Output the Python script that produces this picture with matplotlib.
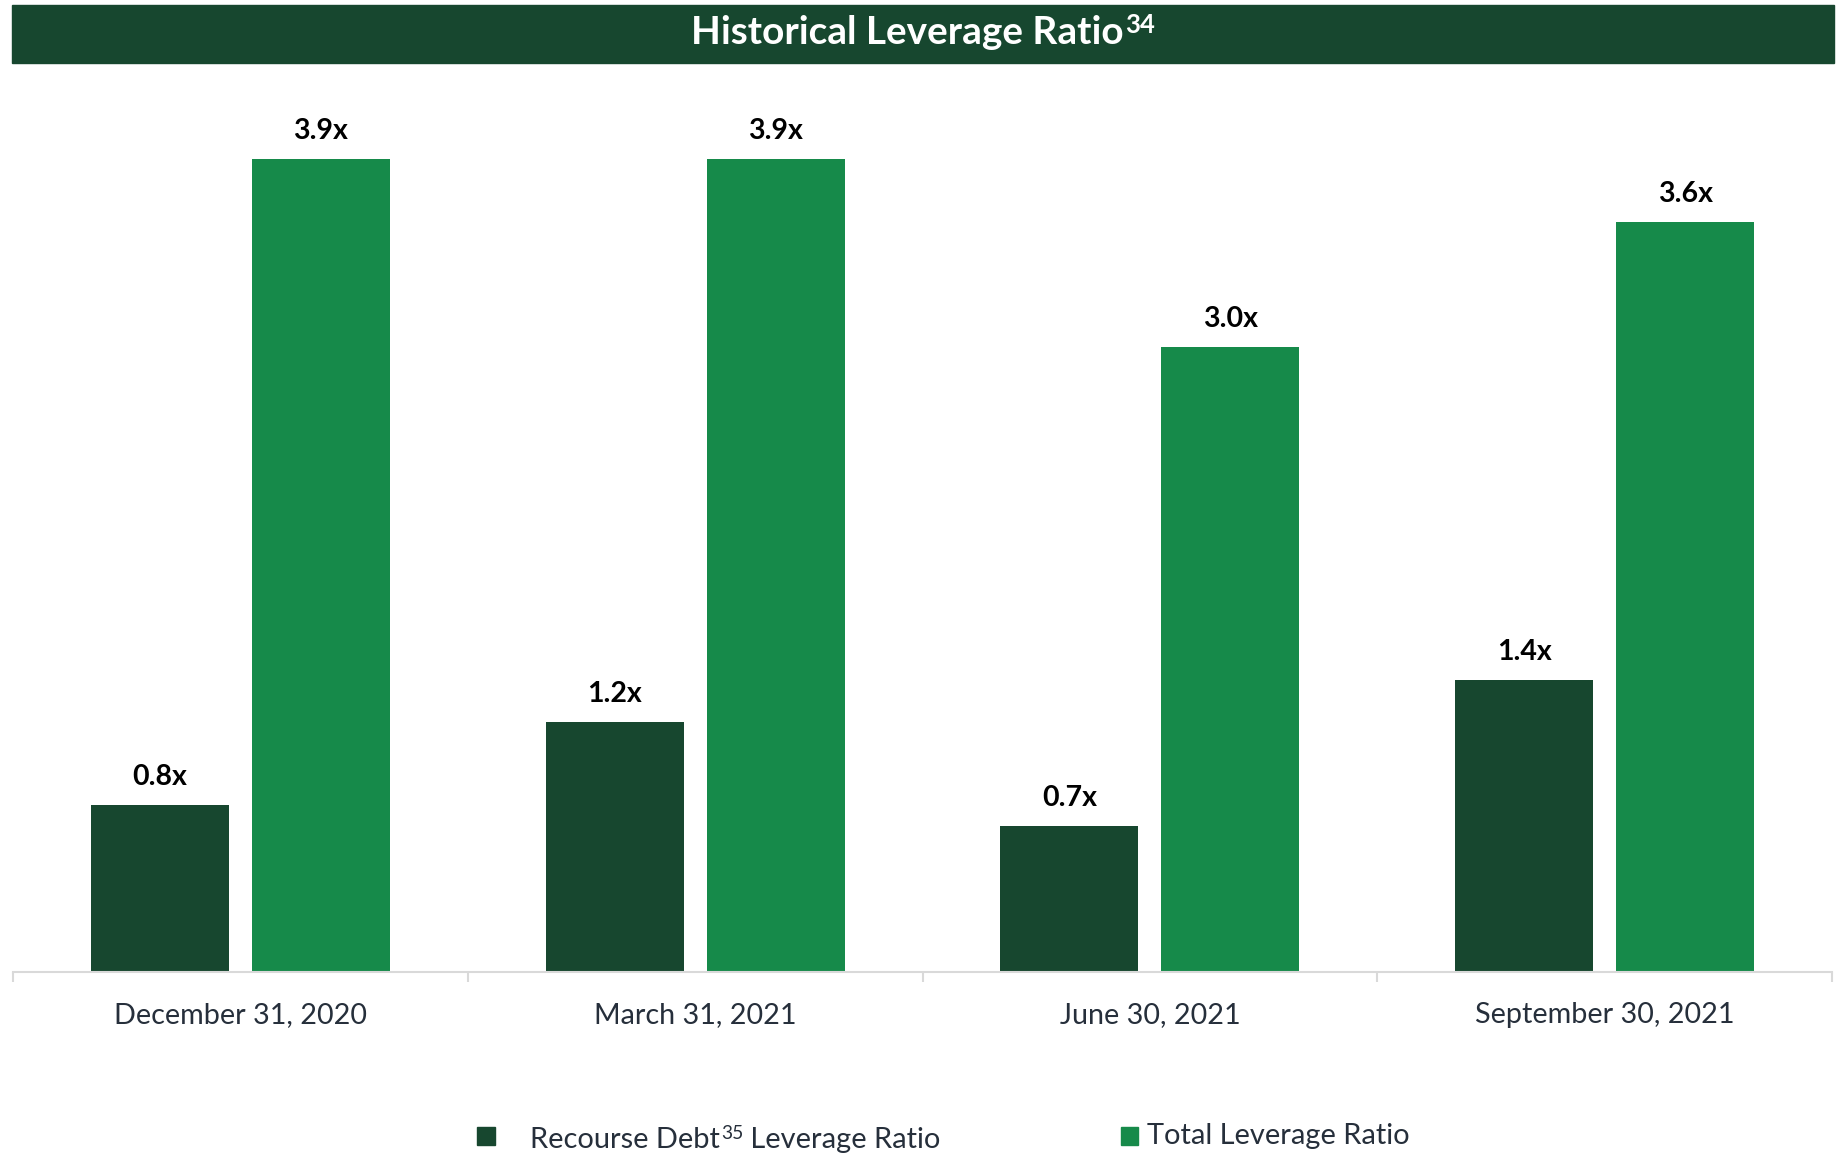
import matplotlib
matplotlib.use("Agg")
import matplotlib.pyplot as plt
from matplotlib.patches import Rectangle
import numpy as np

# ---- data ----
categories = ["December 31, 2020", "March 31, 2021", "June 30, 2021", "September 30, 2021"]
recourse_debt = [0.8, 1.2, 0.7, 1.4]
total_leverage = [3.9, 3.9, 3.0, 3.6]
value_labels_recourse = ["0.8x", "1.2x", "0.7x", "1.4x"]
value_labels_total = ["3.9x", "3.9x", "3.0x", "3.6x"]
series_names = ["Recourse Debt", "Total Leverage Ratio"]
series_suffix = " Leverage Ratio"
title_text = "Historical Leverage Ratio"
title_sup = "34"
legend_sup = "35"

# ---- style ----
W, H = 1839, 1155
DPI = 100
DARK = "#17472F"
GREEN = "#168A4A"
TEXT = "#262F3B"
AXIS = "#D9D9D9"
FONT = "Lato"

fig = plt.figure(figsize=(W / DPI, H / DPI), dpi=DPI)
renderer = fig.canvas.get_renderer()


def fx(px):
    return px / W


def fy(py):
    return 1 - py / H


def width_px(s, fs, weight="normal"):
    t = fig.text(0, 0, s, fontsize=fs, family=FONT, fontweight=weight)
    w = t.get_window_extent(renderer).width
    t.remove()
    return w


def fit(s, target_px, weight="normal"):
    return 20 * target_px / width_px(s, 20, weight)


# axes placement: baseline at y=972px, spanning x 13..1832
ax = fig.add_axes([fx(13), fy(972), fx(1832 - 13), (972 - 100) / H])
px_per_unit = (972 - 159.3) / 3.9
ax.set_ylim(0, (972 - 100) / px_per_unit)
ax.set_xlim(-0.5, len(categories) - 0.5)

x = np.arange(len(categories))
bw = 0.303
off = 0.177
ax.bar(x - off, recourse_debt, width=bw, color=DARK, zorder=2)
ax.bar(x + off, total_leverage, width=bw, color=GREEN, zorder=2)

lab_fs = fit("0.8x", 55, "bold")
for xi, v, s in zip(x - off, recourse_debt, value_labels_recourse):
    ax.annotate(s, (xi, v), xytext=(0, 14.4), textcoords="offset points",
                ha="center", va="baseline", fontsize=lab_fs, fontweight="bold",
                family=FONT, color="black")
for xi, v, s in zip(x + off, total_leverage, value_labels_total):
    ax.annotate(s, (xi, v), xytext=(0, 14.4), textcoords="offset points",
                ha="center", va="baseline", fontsize=lab_fs, fontweight="bold",
                family=FONT, color="black")

for sp in ["top", "right", "left"]:
    ax.spines[sp].set_visible(False)
ax.spines["bottom"].set_color(AXIS)
ax.spines["bottom"].set_linewidth(1.5)
ax.set_yticks([])
tick_fs = fit(categories[0], 253)
ax.set_xticks(x)
ax.set_xticklabels(categories, fontsize=tick_fs, family=FONT, color=TEXT)
ax.tick_params(axis="x", which="major", length=0, pad=21.5)
ax.set_xticks(np.arange(len(categories) + 1) - 0.5, minor=True)
ax.tick_params(axis="x", which="minor", length=7.2, width=1.5, color=AXIS, direction="out")

# ---- title band ----
fig.patches.append(Rectangle((fx(12), fy(63)), fx(1834 - 12), (63 - 5) / H,
                             transform=fig.transFigure, color=DARK, zorder=0))
title_fs = fit(title_text, 405, "bold") * 1.07
sup_fs = title_fs * 0.66
tw = width_px(title_text, title_fs, "bold")
sw = width_px(title_sup, sup_fs, "bold")
tx0 = 923 - (tw + 2 + sw) / 2
fig.text(fx(tx0), fy(44), title_text, fontsize=title_fs, fontweight="bold",
         family=FONT, color="white", va="baseline", ha="left")
fig.text(fx(tx0 + tw + 2), fy(33), title_sup, fontsize=sup_fs, fontweight="bold",
         family=FONT, color="white", va="baseline", ha="left")

# ---- legend ----
sq = 17.7
fig.patches.append(Rectangle((fx(477.3), fy(1145)), fx(sq), sq / H,
                             transform=fig.transFigure, color=DARK))
fig.patches.append(Rectangle((fx(1120.5), fy(1145)), fx(sq), sq / H,
                             transform=fig.transFigure, color=GREEN))
leg_fs = fit(series_names[1], 263)
lsup_fs = leg_fs * 0.66
x0 = 530
w1 = width_px(series_names[0], leg_fs)
fig.text(fx(x0), fy(1148), series_names[0], fontsize=leg_fs, family=FONT,
         color=TEXT, va="baseline", ha="left")
x1 = x0 + w1 + 1
fig.text(fx(x1), fy(1139), legend_sup, fontsize=lsup_fs, family=FONT,
         color=TEXT, va="baseline", ha="left")
x2 = x1 + width_px(legend_sup, lsup_fs)
fig.text(fx(x2), fy(1148), series_suffix, fontsize=leg_fs, family=FONT,
         color=TEXT, va="baseline", ha="left")
fig.text(fx(1147), fy(1144), series_names[1], fontsize=leg_fs, family=FONT,
         color=TEXT, va="baseline", ha="left")

fig.savefig("out.png", dpi=DPI, facecolor="white")
